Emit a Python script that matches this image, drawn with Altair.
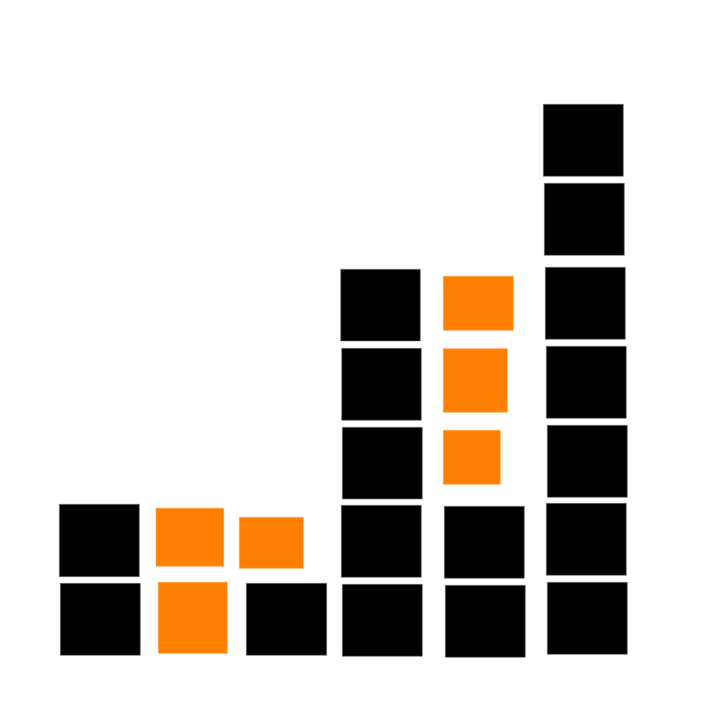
import altair as alt
import pandas as pd

# Unit chart: each cell is one unit; columns 1..6, rows counted from the bottom
column = [1, 1,
          2, 2,
          3, 3,
          4, 4, 4, 4, 4,
          5, 5, 5, 5, 5,
          6, 6, 6, 6, 6, 6, 6]
row = [1, 2,
       1, 2,
       1, 2,
       1, 2, 3, 4, 5,
       1, 2, 3, 4, 5,
       1, 2, 3, 4, 5, 6, 7]
kind = ["black", "black",
        "orange", "orange",
        "black", "orange",
        "black", "black", "black", "black", "black",
        "black", "black", "orange", "orange", "orange",
        "black", "black", "black", "black", "black", "black", "black"]

# sketched cell extents (in the chart's 727 x 720 unit grid, y measured from top)
left = [60.3, 59.3,
        158.3, 156.0,
        246.3, 239.3,
        342.3, 341.3, 342.3, 341.7, 340.7,
        445.3, 444.3, 443.3, 443.3, 443.3,
        547.3, 546.3, 547.3, 546.3, 545.3, 544.3, 543.3]
right = [140.3, 139.3,
         227.3, 223.7,
         326.7, 303.3,
         422.3, 421.3, 422.3, 421.3, 420.3,
         525.3, 524.3, 500.3, 507.3, 513.3,
         627.3, 626.3, 627.3, 626.3, 625.3, 624.3, 623.3]
top = [583.3, 504.3,
       582.3, 508.3,
       583.3, 517.3,
       584.3, 505.3, 427.3, 348.3, 269.3,
       585.3, 506.3, 430.3, 348.7, 276.3,
       582.3, 503.3, 425.3, 346.3, 267.3, 183.3, 104.3]
bottom = [655.3, 576.7,
          653.3, 566.3,
          655.3, 568.3,
          656.3, 577.3, 499.0, 420.3, 341.0,
          657.3, 578.3, 484.3, 412.3, 330.3,
          654.3, 575.3, 497.3, 418.3, 339.3, 255.3, 176.3]

df = pd.DataFrame({
    "column": column, "row": row, "kind": kind,
    "left": left, "right": right, "top": top, "bottom": bottom,
})

xs = alt.Scale(domain=[0, 727], nice=False, zero=False)
ys = alt.Scale(domain=[0, 720], nice=False, zero=False, reverse=True)

chart = alt.Chart(df).mark_rect(strokeWidth=0.6).encode(
    x=alt.X("left:Q", scale=xs, axis=None),
    x2="right:Q",
    y=alt.Y("top:Q", scale=ys, axis=None),
    y2="bottom:Q",
    color=alt.Color("kind:N", scale=alt.Scale(domain=["black", "orange"], range=["#000000", "#FF8000"]), legend=None),
    stroke=alt.Stroke("kind:N", scale=alt.Scale(domain=["black", "orange"], range=["#777777", "#FFA040"]), legend=None),
).properties(
    width=727, height=720, padding=0, background="white",
    autosize=alt.AutoSizeParams(type="none"),
).configure_view(stroke=None, strokeWidth=0)

chart.save("out.html", embed_options={"renderer": "svg", "actions": False})
